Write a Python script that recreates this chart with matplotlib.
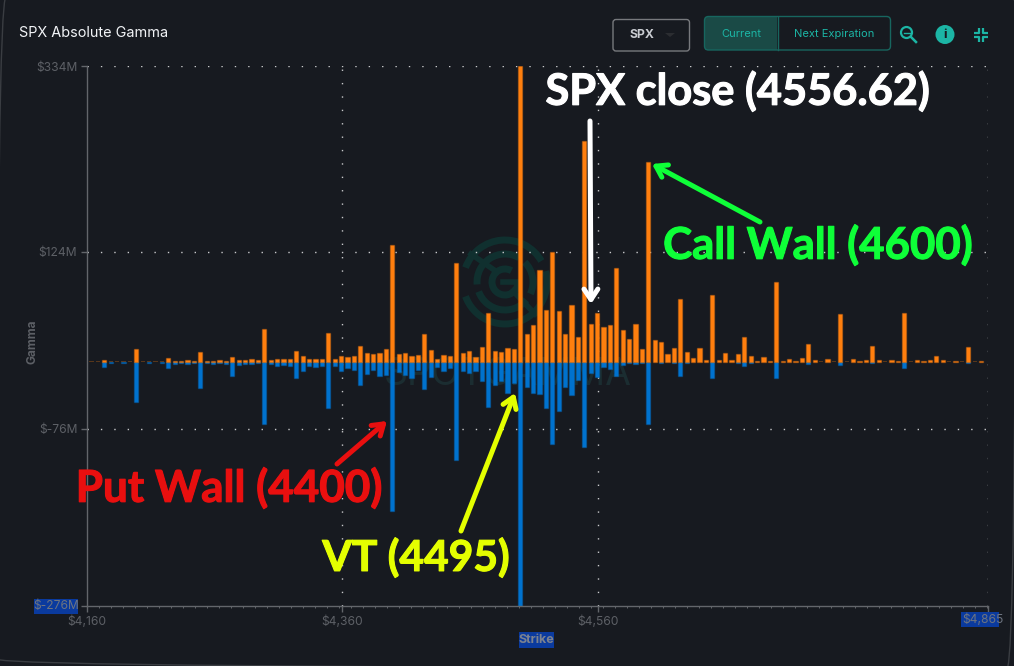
#!/usr/bin/env python3
"""SPX Absolute Gamma chart with hand-drawn style callouts."""
import matplotlib
matplotlib.use('Agg')
import matplotlib.pyplot as plt
import matplotlib.patheffects as pe
from matplotlib.patches import Arc, Circle, FancyBboxPatch, Rectangle, Polygon

plt.rcParams['font.family'] = ['Inter', 'Liberation Sans', 'DejaVu Sans']
plt.rcParams['lines.scale_dashes'] = False

W, H = 1014, 666
BG = '#171a20'
ORANGE = '#ff7f0e'
BLUE = '#0072ce'
TEAL = '#1cb5a5'
AXIS_GREY = '#63666b'
LABEL_GREY = '#5d6066'
HILITE = '#0a3a9e'

# strikes every 5 points, $M of call and put gamma
STRIKES = list(range(4165, 4865, 5))
CALL_GAMMA = [
    0.3, 0.3, 1.5, 0.3, 0.5, 0.3, 0.3, 14.3, 0.3, 0.3, 0.3, 0.5, 3.8, 1.0, 1.0, 1.5, 1.0, 11.3, 1.0, 1.1,
    1.5, 1.1, 5.6, 1.5, 1.5, 2.6, 1.5, 37.0, 1.5, 2.6, 2.6, 3.0, 11.7, 6.8, 2.6, 3.0, 3.4, 32.8, 3.0, 6.4,
    4.9, 6.8, 18.0, 10.2, 8.3, 9.4, 13.9, 131.8, 8.3, 10.2, 6.4, 7.5, 31.6, 13.6, 3.4, 7.2, 6.0, 111.5, 9.4, 12.0,
    5.3, 16.2, 55.4, 11.7, 11.3, 15.8, 13.9, 334.0, 30.9, 41.4, 103.6, 58.0, 124.0, 56.9, 31.3, 64.0, 27.5, 249.0, 42.6, 55.4,
    39.0, 41.4, 105.5, 36.0, 26.0, 42.6, 13.9, 225.4, 24.5, 21.8, 8.3, 15.8, 71.0, 10.5, 4.1, 15.0, 1.9, 75.0, 1.9, 9.4,
    1.9, 8.3, 27.5, 6.4, 1.1, 5.6, 1.1, 89.6, 1.1, 2.6, 1.0, 4.1, 19.6, 2.3, 0.5, 3.4, 0.5, 53.5, 0.5, 2.6,
    1.1, 2.3, 17.3, 1.5, 0.5, 1.5, 1.1, 54.6, 0.5, 2.3, 1.1, 1.5, 6.8, 1.5, 0.2, 1.1, 0.2, 16.2, 0.2, 1.1,
]
PUT_GAMMA = [
    0.8, 0.8, 6.4, 1.5, 0.8, 1.5, 0.8, 45.6, 0.8, 1.5, 0.8, 1.5, 7.5, 3.0, 1.5, 2.6, 1.5, 30.0, 1.9, 2.6,
    1.9, 3.0, 16.0, 3.8, 2.6, 2.6, 1.9, 70.0, 3.0, 4.9, 4.1, 4.9, 18.5, 10.2, 4.9, 6.4, 5.3, 52.4, 4.5, 10.2,
    7.2, 9.4, 26.7, 13.9, 9.8, 16.2, 15.4, 169.0, 12.0, 14.7, 18.8, 9.8, 30.5, 17.0, 5.6, 10.2, 7.2, 111.0, 10.9, 13.2,
    10.2, 22.2, 51.6, 26.0, 21.8, 35.0, 24.0, 276.0, 29.0, 35.0, 36.5, 52.7, 93.4, 55.7, 28.6, 37.7, 21.0, 96.8, 13.2, 17.3,
    6.0, 8.3, 15.8, 3.8, 1.5, 2.6, 1.5, 70.0, 0.8, 1.5, 0.8, 1.1, 15.8, 1.1, 0.4, 0.4, 0.4, 18.0, 0.4, 0.4,
    0.2, 1.9, 4.9, 1.5, 0.2, 0.2, 0.2, 19.0, 0.2, 0.2, 0.2, 0.4, 2.6, 0.2, 0.1, 0.8, 0.1, 3.8, 0.1, 0.1,
    0.1, 0.1, 1.1, 0.1, 0.1, 0.1, 0.1, 7.2, 0.1, 0.1, 0.1, 0.1, 0.1, 0.1, 0.1, 0.1, 0.1, 1.1, 0.1, 0.1,
]
Y_TICKS = [334, 124, -76, -276]
Y_LABELS = ['$334M', '$124M', '$-76M', '$-276M']
X_LABELS = ['$4,160', '$4,360', '$4,560', '$4,865']
X_TICKS = [4161.5, 4361.0, 4561.0, 4865.0]


def rgba(col, a):
    return matplotlib.colors.to_rgba(col, a)


def bar_fill(col, values):
    # bars under about a pixel tall read as faint smudges in the original
    return [rgba(col, 1.0 if v >= 1.0 else 0.28) for v in values]


def bar_edge(col, values):
    return [rgba(col, 0.35 if v >= 1.0 else 0.0) for v in values]


fig = plt.figure(figsize=(W / 100, H / 100), dpi=100, facecolor=BG)

# back layer: card border and watermark, in pixel coordinates
back = fig.add_axes([0, 0, 1, 1], zorder=0)
back.set_xlim(0, W)
back.set_ylim(H, 0)
back.axis('off')
back.add_patch(FancyBboxPatch((-3, -3), W + 5, H + 5, boxstyle='round,pad=0,rounding_size=9',
                              fc='none', ec='#3a3d42', lw=1))
WM = '#10302f'
cx, cy = 505, 282
for r, t1, t2 in [(42, 200, 330), (42, 345, 520), (28, 40, 160), (28, 175, 300), (28, 315, 385), (13, 0, 300)]:
    back.add_patch(Arc((cx, cy), 2 * r, 2 * r, theta1=t1, theta2=t2, color=WM, lw=5))
back.plot([cx - 2, cx + 13], [cy, cy], color=WM, lw=4)
back.plot([cx + 8, cx + 30], [cy + 9, cy + 32], color=WM, lw=4)
back.plot([cx - 8, cx - 34], [cy - 10, cy - 28], color=WM, lw=4)
back.text(508, 375, 'SPOTGAMMA', color='#1b2d31', fontsize=27, ha='center', va='center')

# main chart
ax = fig.add_axes([87 / W, 1 - 606 / H, 900.5 / W, 540 / H], zorder=1)
ax.patch.set_alpha(0)
ax.set_xlim(4161.5, 4865.0)
ax.set_ylim(-276, 334)

for y in Y_TICKS[:3]:
    ax.axhline(y, color='#c9cacc', lw=1, ls=(0, (1.0, 8.64)), zorder=1)
for x in X_TICKS[1:]:
    ax.axvline(x, color='#c9cacc', lw=1, ls=(0, (1.0, 8.64)), zorder=1)

ax.bar(STRIKES, [-v for v in PUT_GAMMA], width=3.3, color=bar_fill(BLUE, PUT_GAMMA),
       edgecolor=bar_edge(BLUE, PUT_GAMMA), lw=1, zorder=2)
ax.bar(STRIKES, CALL_GAMMA, width=3.3, color=bar_fill(ORANGE, CALL_GAMMA),
       edgecolor=bar_edge(ORANGE, CALL_GAMMA), lw=1, zorder=3)

for side in ('top', 'right'):
    ax.spines[side].set_visible(False)
for side in ('left', 'bottom'):
    ax.spines[side].set_color(AXIS_GREY)
    ax.spines[side].set_linewidth(1)

ax.set_yticks(Y_TICKS)
ax.set_yticklabels(Y_LABELS[:3] + [''], color=LABEL_GREY, fontsize=8.7)
ax.set_xticks(X_TICKS)
ax.set_xticklabels(X_LABELS[:3] + [''], color=LABEL_GREY, fontsize=8.7)
ax.tick_params(axis='both', color=AXIS_GREY, length=4.5, width=1, pad=2.5)
ax.set_xticks([4161.5 + i * 9.375 for i in range(1, 76)], minor=True)
ax.tick_params(axis='x', which='minor', color=AXIS_GREY, length=1.5, width=0.7)

# front layer: controls, highlighted labels, callouts
top = fig.add_axes([0, 0, 1, 1], zorder=2)
top.set_xlim(0, W)
top.set_ylim(H, 0)
top.axis('off')
top.patch.set_alpha(0)

top.text(19, 33, 'SPX Absolute Gamma', color='#f2f4f7', fontsize=10.4, va='center')
top.text(32, 342, 'Gamma', color=LABEL_GREY, fontsize=8.6, fontweight='bold', rotation=90, ha='center', va='center')

# selected text boxes
top.add_patch(Rectangle((34, 599), 44, 14.5, fc=HILITE, ec='none'))
top.text(56, 606.5, '$-276M', color='#6d7480', fontsize=8.7, ha='center', va='center')
box = Rectangle((961, 612), 38, 15, fc=HILITE, ec='none')
top.add_patch(box)
t = top.text(962, 620, '$4,865', color='#6d7480', fontsize=8.7, ha='left', va='center')
t.set_clip_path(box)
top.add_patch(Rectangle((519, 632), 35, 16, fc=HILITE, ec='none'))
top.text(536.5, 640, 'Strike', color='#7b8290', fontsize=9, fontweight='bold', ha='center', va='center')

# expiry controls
top.add_patch(FancyBboxPatch((613, 19.5), 76.5, 31.5, boxstyle='round,pad=0,rounding_size=3', fc='none', ec='#77797d', lw=1))
top.text(642, 35, 'SPX', color='#c9ccd1', fontsize=8.8, fontweight='bold', ha='center', va='center')
top.add_patch(Polygon([(665, 33), (675, 33), (670, 37)], fc='#2b2d31', ec='none'))
top.add_patch(Rectangle((705, 17), 72, 33, fc='#1a4a46', ec='none'))
top.add_patch(FancyBboxPatch((704.5, 16.5), 186, 33.5, boxstyle='round,pad=0,rounding_size=4', fc='none', ec='#17665f', lw=1))
top.plot([777.5, 777.5], [17, 50], color='#17665f', lw=1)
top.text(741, 34, 'Current', color=TEAL, fontsize=8, ha='center', va='center')
top.text(834, 34, 'Next Expiration', color=TEAL, fontsize=8, ha='center', va='center')

# icons
top.add_patch(Circle((906.5, 32.5), 5.5, fc='none', ec=TEAL, lw=1.6))
top.plot([911, 916], [37, 42], color=TEAL, lw=1.8)
top.plot([903.5, 909.5], [32.5, 32.5], color=TEAL, lw=1)
top.add_patch(Circle((945, 34.5), 9.5, fc=TEAL, ec='none'))
top.text(945, 34.5, 'i', color=BG, fontsize=9.5, fontweight='bold', ha='center', va='center')
for sx, sy in [(-1, -1), (1, -1), (-1, 1), (1, 1)]:
    x0, y0 = 981 + 2 * sx, 34.5 + 2 * sy
    top.plot([x0 + 5 * sx, x0, x0], [y0, y0, y0 + 5 * sy], color=TEAL, lw=1.6, solid_capstyle='butt')

# callouts
CALLOUT_FONT = ['Lato', 'Liberation Sans', 'DejaVu Sans']
for txt, x, y, col, size in [
    ('SPX close (4556.62)', 738, 91, 'white', 31.2),
    ('Call Wall (4600)', 818, 245, '#0eff38', 31.5),
    ('Put Wall (4400)', 229, 488, '#e90f0f', 31.7),
    ('VT (4495)', 416, 558, '#e4ff00', 30.6),
]:
    top.text(x, y, txt, color=col, fontsize=size, fontweight='bold', family=CALLOUT_FONT, ha='center', va='center',
             path_effects=[pe.withStroke(linewidth=0.8, foreground=col)])

for start, end, col in [
    ((590, 121), (591, 304), 'white'),
    ((760, 222), (652, 164), '#0eff38'),
    ((337, 464), (387, 421), '#e90f0f'),
    ((461, 531), (515, 393), '#e4ff00'),
]:
    top.annotate('', xy=end, xytext=start,
                 arrowprops=dict(arrowstyle='->,head_length=0.75,head_width=0.5', color=col, lw=3.6,
                                 shrinkA=0, shrinkB=0))

fig.savefig('out.png', dpi=100, facecolor=BG)
